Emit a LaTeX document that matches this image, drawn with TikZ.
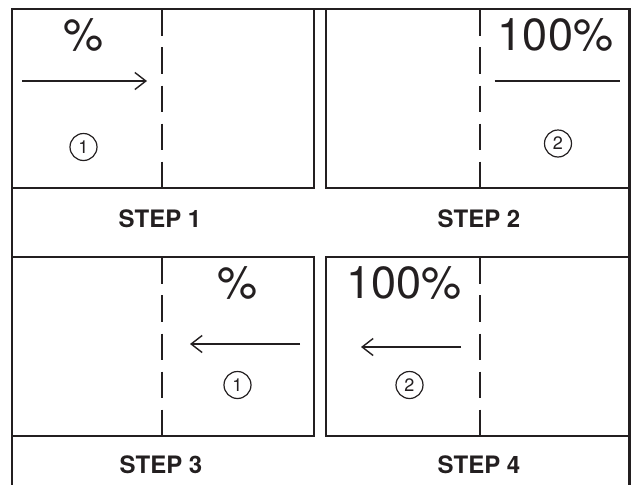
\documentclass[tikz,border=0pt]{standalone}
\usepackage{fontspec}
\setmainfont{TeX Gyre Heros}
\usetikzlibrary{arrows.meta}
\definecolor{ink}{RGB}{35,31,32}
\begin{document}
\begin{tikzpicture}[x=1pt,y=-1pt,
  frame/.style={draw=ink,line width=2.3pt},
  fold/.style={draw=ink,line width=2pt,dash pattern=on 26.5pt off 11.6pt},
  big/.style={font=\fontsize{45}{54}\selectfont,text=ink,inner sep=0pt,anchor=base},
  steplabel/.style={font=\fontsize{24}{28}\selectfont\bfseries,text=ink,inner sep=0pt,anchor=base},
  num/.style={inner sep=0pt,font=\fontsize{18}{20}\selectfont,text=ink},
  ring/.style={draw=ink,line width=1.2pt},
  movearrow/.style={draw=ink,line width=1.4pt,-{Straight Barb[length=11pt,width=17pt]}},
  rulel/.style={draw=ink,line width=1.4pt}]
\useasboundingbox (0,0) rectangle (633,485);
% outer frame
\draw[frame] (12.3,485) -- (12.3,9.3) -- (629.5,9.3) -- (629.5,485);
% panels
\draw[frame] (12.3,9.3) rectangle (313.7,188);
\draw[frame] (326,9.3) rectangle (629.5,188);
\draw[frame] (12.3,257.3) rectangle (313.7,436);
\draw[frame] (326,257.3) rectangle (629.5,436);
% fold lines
\draw[fold] (162.3,9.3) -- (162.3,188);
\draw[fold] (479.7,9.3) -- (479.7,188);
\draw[fold] (162.3,257.3) -- (162.3,436);
\draw[fold] (479.7,257.3) -- (479.7,436);
% panel 1
\node[big] (p1) at (84,50) {\%};
\coordinate (a1s) at (22,81);
\coordinate (a1e) at (147,81);
\draw[movearrow] (a1s) -- (a1e);
\node[num] (c1) at (83.5,147) {1};
\draw[ring] (c1.center) circle (13.5);
% panel 2
\node[big] (p2) at (555.5,50) {100\%};
\coordinate (l2s) at (494.7,81);
\coordinate (l2e) at (620,81);
\draw[rulel] (l2s) -- (l2e);
\node[num] (c2) at (558,143.5) {2};
\draw[ring] (c2.center) circle (13.5);
% panel 3
\node[big] (p3) at (237.5,298) {\%};
\coordinate (a3s) at (300,344);
\coordinate (a3e) at (190,344);
\draw[movearrow] (a3s) -- (a3e);
\node[num] (c3) at (237.5,385) {1};
\draw[ring] (c3.center) circle (13.5);
% panel 4
\node[big] (p4) at (404,298) {100\%};
\coordinate (a4s) at (461,347);
\coordinate (a4e) at (361,347);
\draw[movearrow] (a4s) -- (a4e);
\node[num] (c4) at (409.5,385) {2};
\draw[ring] (c4.center) circle (13.5);
% step labels
\node[steplabel] (s1) at (160,227) {STEP 1};
\node[steplabel] (s2) at (479,227) {STEP 2};
\node[steplabel] (s3) at (161,473) {STEP 3};
\node[steplabel] (s4) at (479,473) {STEP 4};
\end{tikzpicture}
\end{document}
